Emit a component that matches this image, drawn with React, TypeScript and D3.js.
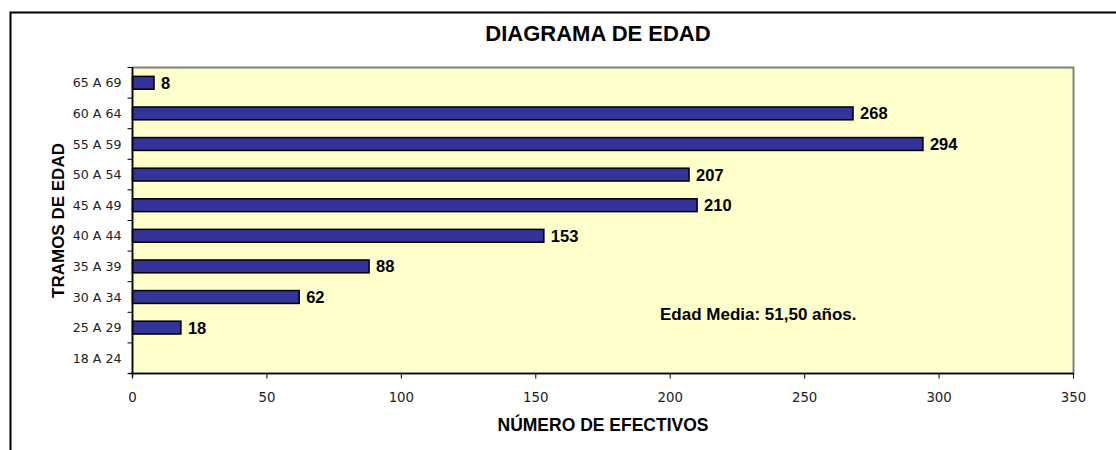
import { useEffect, useRef } from "react";
import * as d3 from "d3";

const categories = ["18 A 24", "25 A 29", "30 A 34", "35 A 39", "40 A 44", "45 A 49", "50 A 54", "55 A 59", "60 A 64", "65 A 69"];
const values = [0, 18, 62, 88, 153, 210, 207, 294, 268, 8];
const xTicks = [0, 50, 100, 150, 200, 250, 300, 350];

export default function App() {
  const svgRef = useRef<SVGSVGElement | null>(null);

  useEffect(() => {
    const width = 1116;
    const height = 450;
    const plot = { left: 132.5, right: 1073.5, top: 67.5, bottom: 373.5 };
    const sans = "Liberation Sans, Arial, sans-serif";
    const tickFont = "DejaVu Sans, Verdana, sans-serif";

    const svg = d3.select(svgRef.current);
    svg.selectAll("*").remove();

    // outer frame (only top + left visible in the crop)
    svg.append("path")
      .attr("d", `M10.5,${height}V12.5H${width}`)
      .attr("fill", "none")
      .attr("stroke", "#000")
      .attr("stroke-width", 2);

    const x = d3.scaleLinear().domain([0, 350]).range([plot.left, plot.right]);
    const y = d3.scaleBand<string>()
      .domain(categories.slice().reverse())
      .range([plot.top, plot.bottom])
      .paddingInner(0.58)
      .paddingOuter(0.29);

    svg.append("rect")
      .attr("x", plot.left)
      .attr("y", plot.top)
      .attr("width", plot.right - plot.left)
      .attr("height", plot.bottom - plot.top)
      .attr("fill", "#FFFFCC")
      .attr("stroke", "#808080")
      .attr("stroke-width", 2);

    svg.append("text")
      .attr("x", 598)
      .attr("y", 41)
      .attr("text-anchor", "middle")
      .attr("font-family", sans)
      .attr("font-weight", "bold")
      .attr("font-size", 22)
      .text("DIAGRAMA DE EDAD");

    const bars = svg.append("g");
    categories.forEach((c, i) => {
      const v = values[i];
      if (!v) return;
      bars.append("rect")
        .attr("x", x(0))
        .attr("y", y(c)!)
        .attr("width", x(v) - x(0))
        .attr("height", y.bandwidth())
        .attr("fill", "#333399")
        .attr("stroke", "#000")
        .attr("stroke-width", 1.5);
      bars.append("text")
        .attr("x", x(v) + 7)
        .attr("y", y(c)! + y.bandwidth() / 2)
        .attr("dy", "0.36em")
        .attr("font-family", sans)
        .attr("font-weight", "bold")
        .attr("font-size", 16.5)
        .text(String(v));
    });

    // y axis with ticks between bands
    const yAxis = svg.append("g");
    yAxis.append("line")
      .attr("x1", plot.left).attr("x2", plot.left)
      .attr("y1", plot.top).attr("y2", plot.bottom + 4)
      .attr("stroke", "#000").attr("stroke-width", 1.5);
    const step = (plot.bottom - plot.top) / categories.length;
    d3.range(categories.length + 1).forEach((k) => {
      const yy = plot.top + k * step;
      yAxis.append("line")
        .attr("x1", plot.left - 5).attr("x2", plot.left)
        .attr("y1", yy).attr("y2", yy)
        .attr("stroke", "#000");
    });
    categories.forEach((c) => {
      yAxis.append("text")
        .attr("x", plot.left - 11)
        .attr("y", y(c)! + y.bandwidth() / 2)
        .attr("dy", "0.36em")
        .attr("text-anchor", "end")
        .attr("font-family", tickFont)
        .attr("font-size", 12.6)
        .attr("fill", "#222")
        .text(c);
    });

    const xAxis = svg.append("g");
    xAxis.append("line")
      .attr("x1", plot.left - 4).attr("x2", plot.right)
      .attr("y1", plot.bottom).attr("y2", plot.bottom)
      .attr("stroke", "#000").attr("stroke-width", 1.5);
    xTicks.forEach((t) => {
      xAxis.append("line")
        .attr("x1", x(t)).attr("x2", x(t))
        .attr("y1", plot.bottom).attr("y2", plot.bottom + 5)
        .attr("stroke", "#000");
      xAxis.append("text")
        .attr("x", x(t))
        .attr("y", 402)
        .attr("text-anchor", "middle")
        .attr("font-family", tickFont)
        .attr("font-size", 13.3)
        .attr("fill", "#222")
        .text(String(t));
    });

    svg.append("text")
      .attr("x", 603)
      .attr("y", 431)
      .attr("text-anchor", "middle")
      .attr("font-family", sans)
      .attr("font-weight", "bold")
      .attr("font-size", 17.5)
      .text("NÚMERO DE EFECTIVOS");

    svg.append("text")
      .attr("transform", `translate(64,${(plot.top + plot.bottom) / 2}) rotate(-90)`)
      .attr("text-anchor", "middle")
      .attr("font-family", sans)
      .attr("font-weight", "bold")
      .attr("font-size", 17)
      .text("TRAMOS DE EDAD");

    svg.append("text")
      .attr("x", 660)
      .attr("y", 320)
      .attr("font-family", sans)
      .attr("font-weight", "bold")
      .attr("font-size", 17)
      .text("Edad Media: 51,50 años.");
  }, []);

  return (
    <svg
      ref={svgRef}
      width={1116}
      height={450}
      style={{ position: "absolute", left: 0, top: 0, background: "#fff" }}
    />
  );
}
